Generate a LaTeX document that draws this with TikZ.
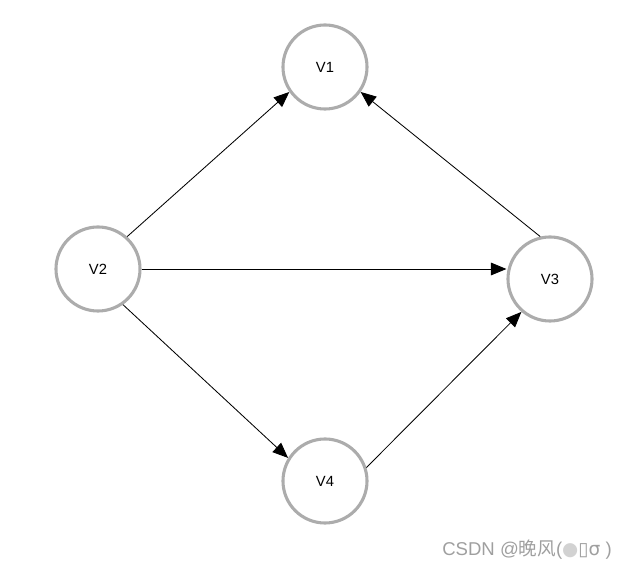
\documentclass[tikz,border=0pt]{standalone}
\usepackage{fontspec}
\setmainfont{Liberation Sans}
\newfontfamily\cjkfont{Noto Sans CJK SC}
\newfontfamily\symfont{DejaVu Sans}
\usetikzlibrary{arrows.meta}

\begin{document}
\begin{tikzpicture}[x=0.025cm,y=-0.025cm,
    vertex/.style={circle,draw=gray!65,line width=2.2pt,minimum size=2.1cm,inner sep=0pt,font=\fontsize{10.5}{12}\selectfont},
    edge/.style={-{Triangle[length=11pt,width=9pt]},line width=0.6pt}]
    \useasboundingbox (0,0) rectangle (626,569);

    % vertices
    \node[vertex] (v1) at (325,67) {V1};
    \node[vertex] (v2) at (98,269) {V2};
    \node[vertex] (v3) at (550,279) {V3};
    \node[vertex] (v4) at (325,481) {V4};

    % edges
    \draw[edge] (v2.48) -- (v1.215);
    \draw[edge] (v3.103) -- (v1.325);
    \draw[edge] (v2.east) -- (v3.west |- v2.east);
    \draw[edge] (v2.305) -- (v4.148);
    \draw[edge] (v4.18) -- (v3.229);

    % watermark
    \node[anchor=base east,text=gray!75,font=\fontsize{13.2}{15}\selectfont,inner sep=0pt] (mark) at (612,556)
        {CSDN @{\cjkfont 晚风}({\symfont\textcolor{gray!35}{●}▯σ} )};
\end{tikzpicture}
\end{document}
